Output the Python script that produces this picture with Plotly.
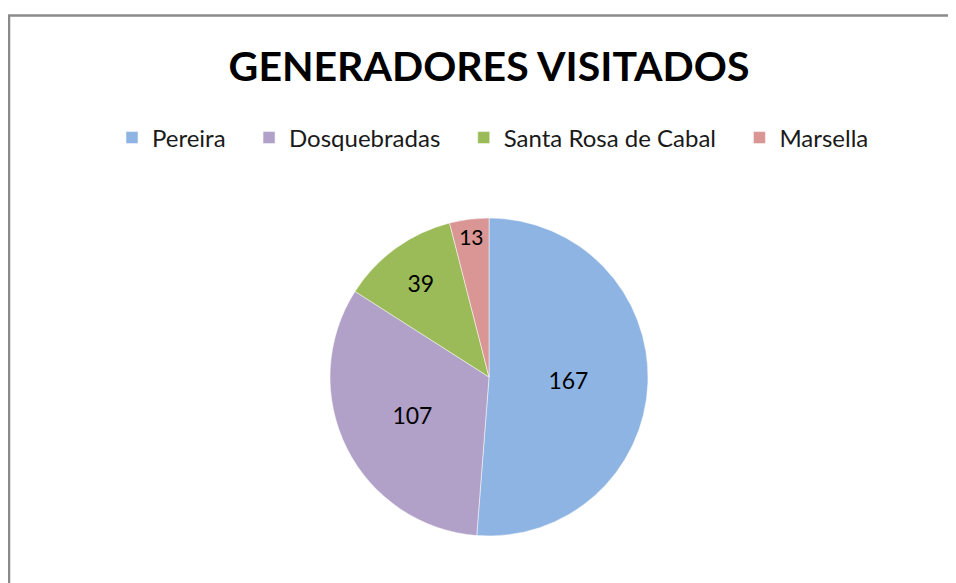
import plotly.graph_objects as go

categories = ["Pereira", "Dosquebradas", "Santa Rosa de Cabal", "Marsella"]
values = [167, 107, 39, 13]
colors = ["#8EB4E3", "#B1A0C7", "#9BBB59", "#D99694"]
title_text = "GENERADORES VISITADOS"

W, H = 956, 583
# the page adds an 8px body margin, so figure coords are offset by 8
cx, cy, r = 481, 369, 159

# extra spacing after legend entries (styling only)
pad = "\u00a0" * 3
legend_labels = [c + pad for c in categories[:-1]] + [categories[-1]]

fig = go.Figure(go.Pie(
    labels=legend_labels,
    values=values,
    customdata=categories,
    marker=dict(colors=colors, line=dict(color="white", width=0.5)),
    sort=False,
    direction="clockwise",
    rotation=0,
    textinfo="value",
    textposition="inside",
    insidetextorientation="horizontal",
    textfont=dict(family="Lato", size=23, color="black"),
    hovertemplate="%{customdata}: %{value}<extra></extra>",
    domain=dict(x=[(cx - r) / W, (cx + r) / W], y=[1 - (cy + r) / H, 1 - (cy - r) / H]),
))

fig.update_layout(
    width=W, height=H,
    margin=dict(l=0, r=0, t=0, b=0),
    paper_bgcolor="white",
    plot_bgcolor="white",
    title=dict(text="<b>" + title_text + "</b>", x=cx / W, xanchor="center",
               y=1 - 59 / H, yanchor="middle",
               font=dict(family="Lato", size=41, color="black")),
    legend=dict(orientation="h", x=(cx + 4) / W, xanchor="center", y=1 - 130 / H, yanchor="middle",
                font=dict(family="Lato", size=24, color="#1a1a1a"), traceorder="normal"),
    shapes=[dict(type="rect", xref="paper", yref="paper", x0=1 / W, x1=1.05, y0=-0.05, y1=1 - 7.5 / H,
                 line=dict(color="#8a8a8a", width=2.5), fillcolor="rgba(0,0,0,0)", layer="below")],
)

fig.write_html("out.html")
